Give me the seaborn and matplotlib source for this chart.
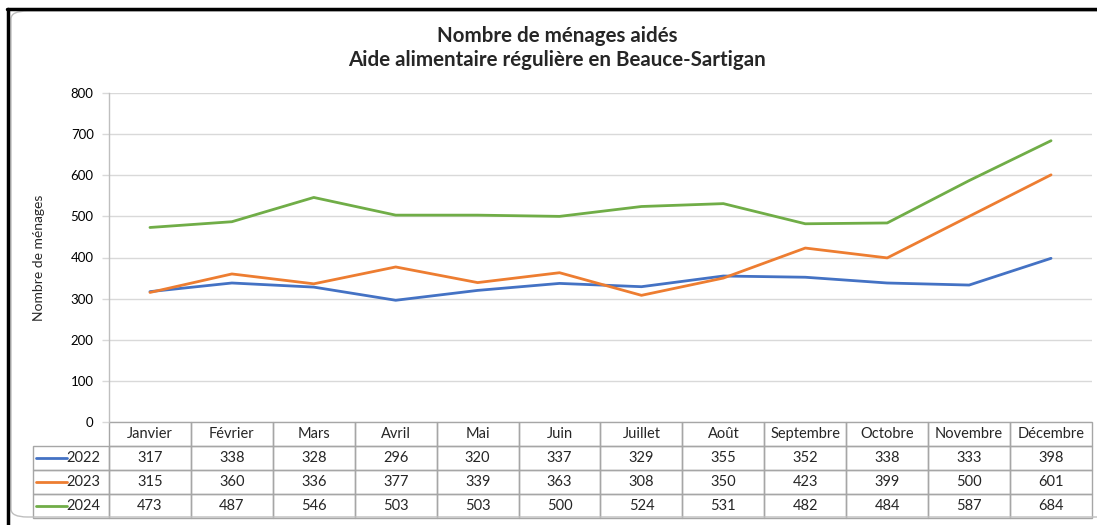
import numpy as np
import pandas as pd
import seaborn as sns
import matplotlib
matplotlib.use("Agg")
import matplotlib.pyplot as plt
from matplotlib.patches import FancyBboxPatch
from matplotlib.lines import Line2D

# ---- data ----
months = ["Janvier", "Février", "Mars", "Avril", "Mai", "Juin", "Juillet",
          "Août", "Septembre", "Octobre", "Novembre", "Décembre"]
years = ["2022", "2023", "2024"]
v2022 = [317, 338, 328, 296, 320, 337, 329, 355, 352, 338, 333, 398]
v2023 = [315, 360, 336, 377, 339, 363, 308, 350, 423, 399, 500, 601]
v2024 = [473, 487, 546, 503, 503, 500, 524, 531, 482, 484, 587, 684]
y_ticks = [0, 100, 200, 300, 400, 500, 600, 700, 800]
colors = ["#4472C4", "#ED7D31", "#70AD47"]

title = "Nombre de ménages aidés\nAide alimentaire régulière en Beauce-Sartigan"
ylabel = "Nombre de ménages"

series = {"2022": v2022, "2023": v2023, "2024": v2024}
df = pd.DataFrame([
    {"Mois": m, "Année": y, "Valeur": v}
    for y in years for m, v in zip(months, series[y])
])

sns.set_theme(style="white")
plt.rcParams["font.family"] = ["Lato", "DejaVu Sans"]

W, H = 1097, 525
fig = plt.figure(figsize=(W / 100, H / 100), dpi=100)

# plot area in pixels
x0, x1, ytop, ybot = 109, 1092, 93, 422
ax = fig.add_axes([x0 / W, 1 - ybot / H, (x1 - x0) / W, (ybot - ytop) / H])

sns.lineplot(data=df, x="Mois", y="Valeur", hue="Année", palette=colors,
             linewidth=2, ax=ax, legend=False, sort=False)

ax.set_xlim(-0.5, len(months) - 0.5)
ax.set_ylim(0, 800)
ax.set_yticks(y_ticks)
ax.set_yticklabels([str(t) for t in y_ticks])
ax.set_xticks([])
ax.set_xlabel("")
ax.set_ylabel(ylabel, fontsize=10)
ax.yaxis.set_label_coords(-(109 - 45) / (x1 - x0), 0.5)
ax.grid(axis="y", color="#d9d9d9", linewidth=1)
ax.set_axisbelow(True)
for s in ["top", "right", "bottom"]:
    ax.spines[s].set_visible(False)
ax.spines["left"].set_color("#bfbfbf")
ax.spines["left"].set_linewidth(1)
ax.tick_params(axis="y", length=5, color="#d9d9d9", width=1, pad=6,
               labelsize=9.5, labelcolor="#000000", left=True)

# ---- data table ----
ax_w = x1 - x0
ax_h = ybot - ytop
tx0 = 33
ty_bot = 518
bbox = [(tx0 - x0) / ax_w, -(ty_bot - ybot) / ax_h, (x1 - tx0) / ax_w, (ty_bot - ybot) / ax_h]
cell_text = [[y] + [str(v) for v in series[y]] for y in years]
col_w = [(x0 - tx0)] + [(x1 - x0) / 12] * 12
tbl = ax.table(cellText=cell_text, colLabels=[""] + months, cellLoc="center",
               colWidths=[w / (x1 - tx0) for w in col_w], bbox=bbox)
tbl.auto_set_font_size(False)
tbl.set_fontsize(10.5)
for (r, c), cell in tbl.get_celld().items():
    cell.set_edgecolor("#a6a6a6")
    cell.set_linewidth(1)
    cell.set_facecolor("none")
    if r == 0 and c == 0:
        cell.visible_edges = "open"
    if c == 0 and r > 0:
        cell._loc = "right"
        cell.PAD = 0.12
        cell.get_text().set_horizontalalignment("right")

# legend keys inside row-label cells
row_h = (ty_bot - ybot) / 4
for i, col in enumerate(colors):
    yc = ybot + row_h * (i + 1.5)
    yax = -(yc - ybot) / ax_h
    ax.add_line(Line2D([(36 - x0) / ax_w, (67 - x0) / ax_w], [yax, yax],
                       transform=ax.transAxes, color=col, linewidth=2,
                       clip_on=False))

# ---- title ----
fig.text(557 / W, 1 - 48 / H, title, ha="center", va="center",
         fontsize=14.8, fontweight="bold", linespacing=1.3)

# ---- frame decorations ----
frame = FancyBboxPatch((11 / W, 8 / H), (W + 20) / W, (H - 19) / H,
                       boxstyle="round,pad=0,rounding_size=0.015",
                       transform=fig.transFigure, facecolor="none",
                       edgecolor="#bfbfbf", linewidth=1)
fig.add_artist(frame)
fig.add_artist(Line2D([7 / W, 1], [1 - 9 / H, 1 - 9 / H], transform=fig.transFigure,
                      color="black", linewidth=2.5))
fig.add_artist(Line2D([8 / W, 8 / W], [0, 1 - 9 / H], transform=fig.transFigure,
                      color="black", linewidth=2.5))

fig.savefig("out.png", dpi=100)
